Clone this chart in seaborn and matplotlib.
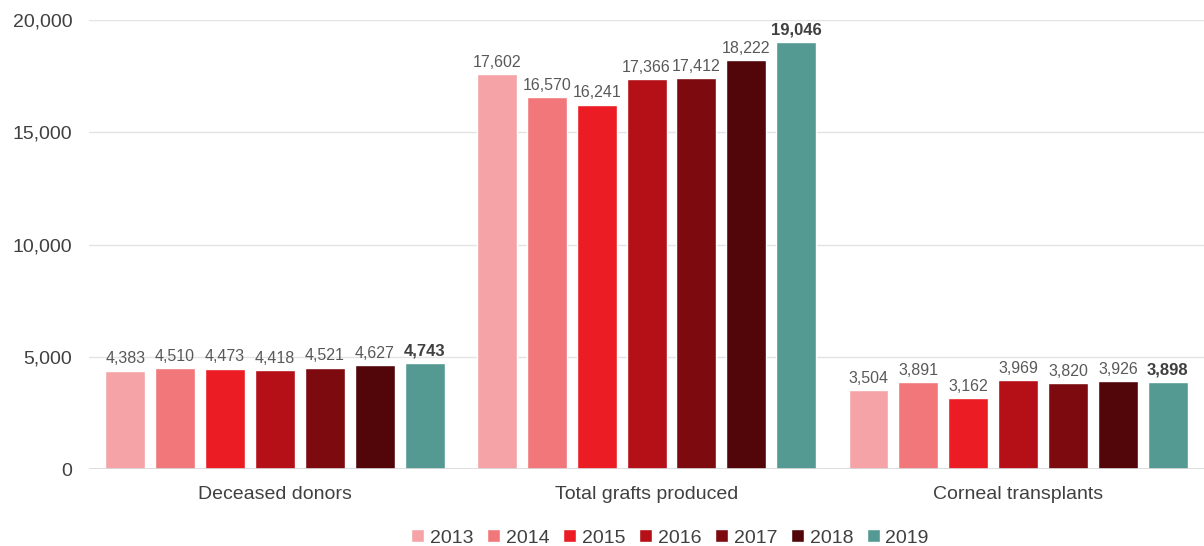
import numpy as np
import pandas as pd
import matplotlib.pyplot as plt
import seaborn as sns

# data
categories = ['Deceased donors', 'Total grafts produced', 'Corneal transplants']
years = ['2013', '2014', '2015', '2016', '2017', '2018', '2019']
deceased_donors = [4383, 4510, 4473, 4418, 4521, 4627, 4743]
grafts_produced = [17602, 16570, 16241, 17366, 17412, 18222, 19046]
corneal_transplants = [3504, 3891, 3162, 3969, 3820, 3926, 3898]

colors = ['#F5A3A6', '#F2777B', '#EC1C24', '#B51017', '#7D0A0F', '#52060A', '#549A93']

rows = []
for cat, vals in zip(categories, [deceased_donors, grafts_produced, corneal_transplants]):
    for y, v in zip(years, vals):
        rows.append({'category': cat, 'year': y, 'value': v})
df = pd.DataFrame(rows)

sns.set_style('white')
plt.rcParams['font.family'] = ['Liberation Sans', 'DejaVu Sans']

fig = plt.figure(figsize=(12.04, 5.46), dpi=100)
ax = fig.add_axes([0.074, 0.141, 0.926, 0.822])

sns.barplot(data=df, x='category', y='value', hue='year', palette=colors,
            width=0.94, gap=0.2, ax=ax, legend=True, saturation=1)

ax.set_ylim(0, 20000)
ax.set_xlim(-0.5, 2.5)
ax.set_yticks(range(0, 20001, 5000))
ax.set_yticklabels([f'{t:,}' for t in range(0, 20001, 5000)])
ax.yaxis.grid(True, color='#E3E3E3', linewidth=1)
ax.set_axisbelow(True)
for s in ax.spines.values():
    s.set_visible(False)
ax.axhline(0, color='#D9D9D9', linewidth=1.2)
ax.tick_params(axis='both', length=0, labelsize=14, colors='#404040')
ax.tick_params(axis='y', pad=12)
ax.tick_params(axis='x', pad=12)
ax.set_xlabel('')
ax.set_ylabel('')

for i, cont in enumerate(ax.containers):
    last = i == len(ax.containers) - 1
    ax.bar_label(cont, labels=[f'{v:,.0f}' for v in cont.datavalues], padding=3,
                 fontsize=11.5 if not last else 12,
                 fontweight='bold' if last else 'normal',
                 color='#595959' if not last else '#404040')

handles, labels = ax.get_legend_handles_labels()
ax.legend(handles, labels, loc='lower center', bbox_to_anchor=(0.521, -0.212), ncol=7,
          frameon=False, fontsize=14, handlelength=0.65, handleheight=0.65,
          handletextpad=0.3, columnspacing=0.72, labelcolor='#404040')

fig.savefig('out.png', dpi=100)
